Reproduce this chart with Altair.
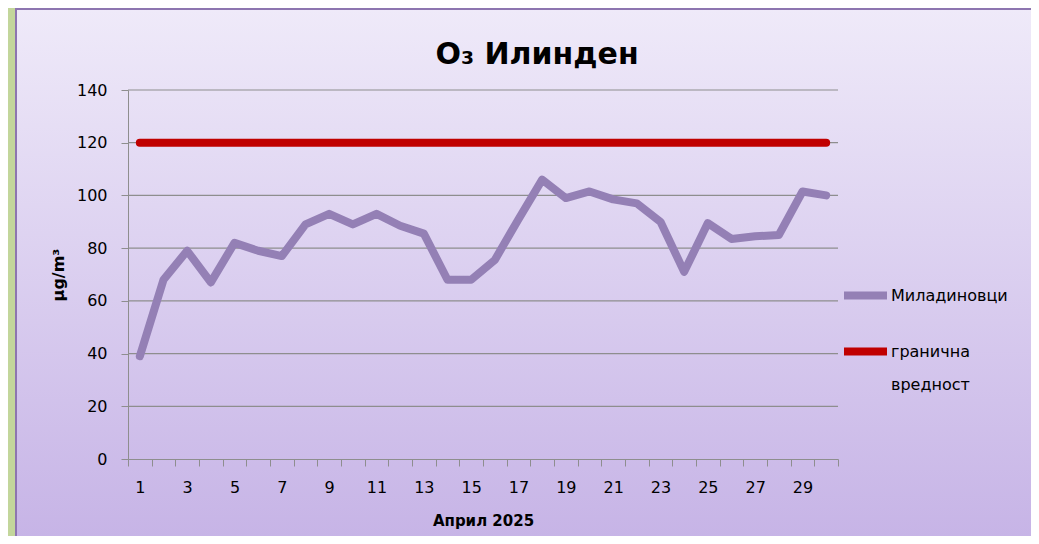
import altair as alt
import pandas as pd

days = list(range(1, 31))
miladinovci = [39, 68, 79, 67, 82, 79, 77, 89, 93, 89, 93, 88.5, 85.5, 68, 68,
               75.5, 91, 106, 99, 101.5, 98.5, 97, 90, 71, 89.5, 83.5, 84.5, 85, 101.5, 100]
limit_value = [120] * 30
series_names = ["Миладиновци", "гранична вредност"]
y_ticks = [0, 20, 40, 60, 80, 100, 120, 140]

rows = []
for d, v in zip(days, miladinovci):
    rows.append({"day": d, "value": v, "series": series_names[0]})
for d, v in zip(days, limit_value):
    rows.append({"day": d, "value": v, "series": series_names[1]})
df = pd.DataFrame(rows)
grid_df = pd.DataFrame({"value": y_ticks[1:]})

FONT = "DejaVu Sans"
W, H = 710, 369
GRID = "#8E8E8E"

background = alt.Chart(pd.DataFrame({"a": [0]})).mark_rect(
    fill=alt.LinearGradient(
        gradient="linear", x1=0, y1=0, x2=0, y2=1,
        stops=[alt.GradientStop(offset=0, color="#EFEAF9"),
               alt.GradientStop(offset=1, color="#C6B3E6")]),
    stroke="#8D75B0", strokeWidth=2
).encode(
    x=alt.value(-112), x2=alt.value(908),
    y=alt.value(-81), y2=alt.value(456)
)

y_scale = alt.Scale(domain=[0, 140], nice=False)

grid = alt.Chart(grid_df).mark_rule(color=GRID, strokeWidth=1.2).encode(
    x=alt.value(0), x2=alt.value(W),
    y=alt.Y("value:Q", scale=y_scale)
)

lines = alt.Chart(df).mark_line(strokeWidth=8, strokeCap="round", strokeJoin="round").encode(
    x=alt.X("day:O", bandPosition=0.5,
            scale=alt.Scale(type="band", paddingInner=0, paddingOuter=0),
            axis=alt.Axis(title="Април 2025", labelAngle=0, tickBand="extent",
                          labelExpr="datum.value % 2 == 1 ? datum.label : ''",
                          labelFontSize=16, labelPadding=13, tickSize=7,
                          tickColor=GRID, domainColor=GRID,
                          titleFontSize=15, titleFontWeight="bold",
                          titlePadding=18, grid=False, zindex=1)),
    y=alt.Y("value:Q", scale=y_scale,
            axis=alt.Axis(title="µg/m³", values=y_ticks, labelFontSize=16,
                          labelPadding=14, tickSize=7, tickColor=GRID,
                          domainColor=GRID, grid=False,
                          titleFontSize=16, titleFontWeight="bold",
                          titleX=-62, titleY=H / 2, zindex=1)),
    color=alt.Color("series:N",
                    scale=alt.Scale(domain=series_names, range=["#9480B5", "#C00000"]),
                    legend=alt.Legend(title=None, orient="none", legendX=712, legendY=180,
                                      symbolType="stroke", symbolSize=1849,
                                      symbolStrokeWidth=8, labelFontSize=16,
                                      labelOffset=0, rowPadding=14,
                                      labelExpr="datum.label == 'гранична вредност' ? ['гранична', 'вредност'] : datum.label")),
    order=alt.Order("day:O")
)

chart = alt.layer(background, grid, lines).properties(
    width=W, height=H,
    title=alt.TitleParams("O₃ Илинден", fontSize=30, fontWeight="bold",
                          anchor="middle", dx=54, dy=80, offset=18, font=FONT, color="black"),
    background="#C3D69B",
    autosize=alt.AutoSizeParams(type="none"),
    padding={"left": 120, "top": 82, "right": 193, "bottom": 77}
).configure(
    font=FONT, style={"guide-label": {"lineHeight": 33}}
).configure_view(stroke=None).configure_axis(
    labelColor="black", titleColor="black", labelFont=FONT, titleFont=FONT
).configure_legend(labelColor="black", labelFont=FONT)

chart.save("out.html", embed_options={"renderer": "svg", "actions": False})
